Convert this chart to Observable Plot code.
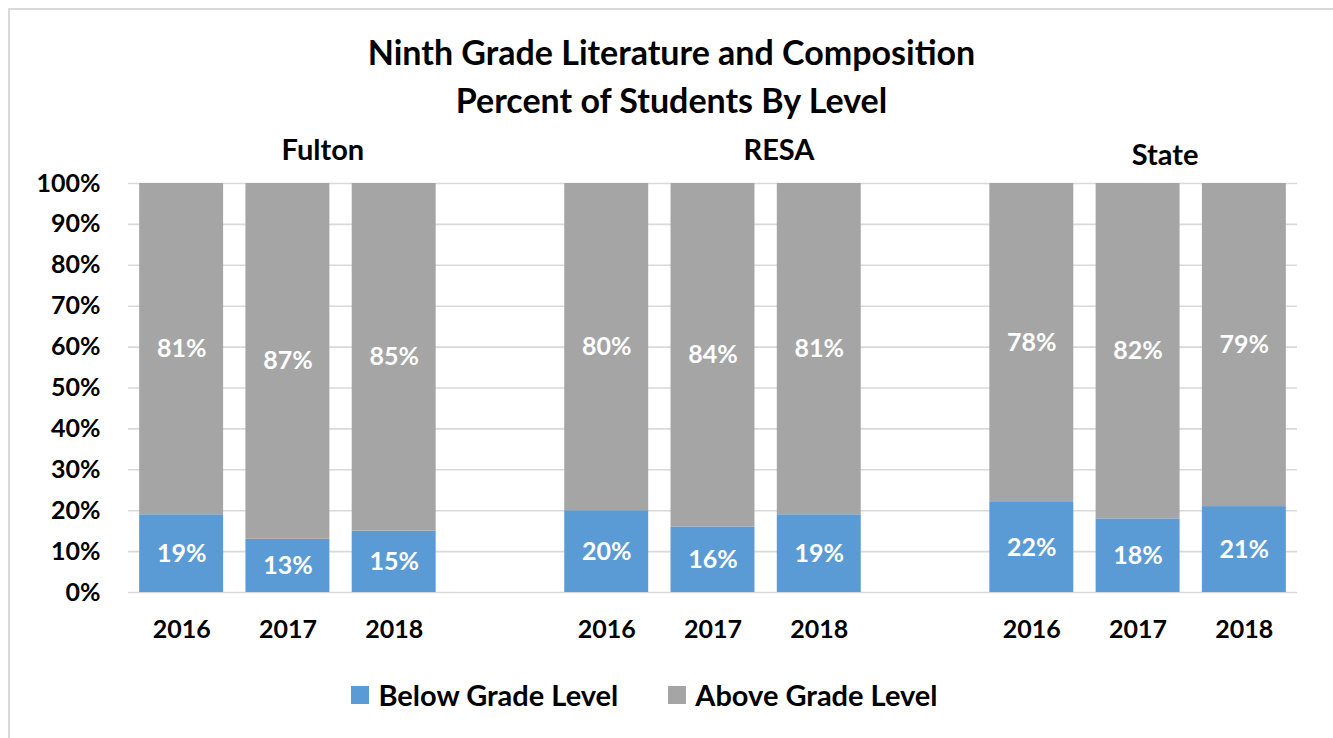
<!DOCTYPE html>
<html>
<head>
<meta charset="utf-8">
<script src="https://cdn.jsdelivr.net/npm/d3@7"></script>
<script src="https://cdn.jsdelivr.net/npm/@observablehq/plot@0.6"></script>
<style>
  html, body { margin: 0; padding: 0; background: #fff; }
  body { width: 1333px; height: 738px; position: relative; overflow: hidden; font-family: Lato, "Open Sans", sans-serif; }
  #frame { position: absolute; left: 8px; top: 8px; width: 1400px; height: 800px; border-left: 2px solid #d9d9d9; border-top: 2px solid #d9d9d9; box-sizing: border-box; }
  #title { position: absolute; left: 5px; top: 28px; width: 1333px; text-align: center; font-weight: bold; font-size: 34px; line-height: 48px; color: #000; }
  #chart { position: absolute; left: 0; top: 110px; }
  #legend { position: absolute; left: 0; top: 677px; width: 1333px; display: flex; justify-content: center; font-weight: bold; font-size: 29px; color: #000; padding-right: 44px; box-sizing: border-box; }
  .item { display: flex; align-items: center; margin: 0 25px; }
  .sw { width: 18px; height: 18px; margin-right: 9px; }
</style>
</head>
<body>
<div id="frame"></div>
<div id="title">Ninth Grade Literature and Composition<br>Percent of Students By Level</div>
<div id="chart"></div>
<div id="legend"></div>
<script>
const groups = ["Fulton", "RESA", "State"];
const years = ["2016", "2017", "2018"];
const levels = ["Below Grade Level", "Above Grade Level"];
const colors = ["#5B9BD5", "#A5A5A5"];
const below = [19, 13, 15, 20, 16, 19, 22, 18, 21];
const above = [81, 87, 85, 80, 84, 81, 78, 82, 79];
const yTicks = [0, 10, 20, 30, 40, 50, 60, 70, 80, 90, 100];

// category slots with a blank slot between groups
const slots = [];
groups.forEach((g, gi) => {
  years.forEach(y => slots.push(g + "|" + y));
  if (gi < groups.length - 1) slots.push("gap" + gi);
});

const rows = [];
groups.forEach((g, gi) => years.forEach((y, yi) => {
  const i = gi * years.length + yi;
  rows.push({key: g + "|" + y, level: levels[0], value: below[i]});
  rows.push({key: g + "|" + y, level: levels[1], value: above[i]});
}));

const font = {fontSize: 25, fontWeight: "bold"};
const groupFont = {fontSize: 29, fontWeight: "bold", fill: "#000"};

const chart = Plot.plot({
  width: 1333,
  height: 550,
  marginTop: 73,
  marginBottom: 68,
  marginLeft: 128,
  marginRight: 36,
  style: {fontFamily: "Lato, 'Open Sans', sans-serif", color: "#000", background: "transparent", overflow: "visible"},
  x: {type: "band", domain: slots, paddingInner: 0.21, paddingOuter: 0.105, round: false, label: null},
  y: {domain: [0, 100], label: null},
  color: {domain: levels, range: colors},
  marks: [
    Plot.ruleY(yTicks, {y: d => d, stroke: "#d9d9d9", strokeWidth: 1.6}),
    Plot.barY(rows, Plot.stackY({x: "key", y: "value", fill: "level", order: levels})),
    Plot.text(rows, Plot.stackY({x: "key", y: "value", z: "level", order: levels, text: d => d.value + "%", fill: "white", ...font})),
    Plot.axisY({ticks: yTicks, tickFormat: d => d + "%", tickSize: 0, tickPadding: 28, ...font, fill: "#000", label: null}),
    Plot.axisX({tickSize: 0, tickPadding: 28, tickFormat: d => d.includes("|") ? d.split("|")[1] : "", ...font, fill: "#000", label: null}),
    Plot.text([groups[0]], {x: () => groups[0] + "|" + years[1], y: () => 100, text: d => d, dx: 35, dy: -33, ...groupFont}),
    Plot.text([groups[1]], {x: () => groups[1] + "|" + years[1], y: () => 100, text: d => d, dx: 66, dy: -33, ...groupFont}),
    Plot.text([groups[2]], {x: () => groups[2] + "|" + years[1], y: () => 100, text: d => d, dx: 27, dy: -28, ...groupFont})
  ]
});
document.getElementById("chart").appendChild(chart);

const legend = document.getElementById("legend");
levels.forEach((l, i) => {
  const item = document.createElement("div");
  item.className = "item";
  const sw = document.createElement("div");
  sw.className = "sw";
  sw.style.background = colors[i];
  const t = document.createElement("span");
  t.textContent = l;
  item.appendChild(sw);
  item.appendChild(t);
  legend.appendChild(item);
});
</script>
</body>
</html>
